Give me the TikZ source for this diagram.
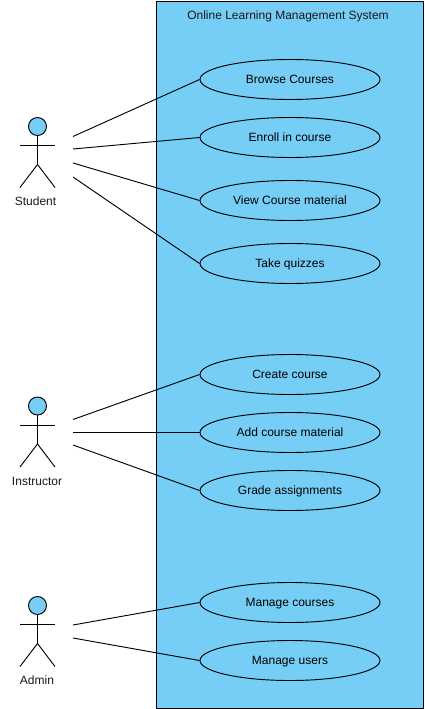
\documentclass[tikz,border=0pt]{standalone}
\usepackage{fontspec}
\setmainfont{Liberation Sans}
\definecolor{sysblue}{HTML}{76CEF6}
\tikzset{
	usecase/.style={draw,ellipse,fill=sysblue,minimum width=180*0.75pt,minimum height=40*0.75pt,inner sep=0pt,text height=7.5pt,text depth=1.5pt,font=\fontsize{9pt}{11pt}\selectfont},
	label/.style={inner sep=0pt,text height=7.5pt,text depth=1.5pt,font=\fontsize{9pt}{11pt}\selectfont,text=black!90},
	head/.style={draw,circle,fill=sysblue,minimum size=18*0.75pt,inner sep=0pt},
	actor/.pic={
		\draw (0,9)--(0,38);
		\draw (-17.5,19)--(17.5,19);
		\draw (0,38)--(-17.5,61);
		\draw (0,38)--(17.5,61);
	}
}
\usetikzlibrary{shapes.geometric}
\begin{document}
\begin{tikzpicture}[x=0.75pt,y=-0.75pt,line width=0.7pt]
			\useasboundingbox (0,0) rectangle (424,709);
			\fill[sysblue] (156.5,1) rectangle (423,708);
			\draw (156.5,1) rectangle (423,708);
			\node[label] (title) at (288,16){Online Learning Management System};
			% use cases
			\node[usecase] (browse) at (290,79.5){Browse Courses};
			\node[usecase] (enroll) at (290,137.5){Enroll in course};
			\node[usecase] (view) at (290,200.5){View Course material};
			\node[usecase] (quiz) at (290,263.5){Take quizzes};
			\node[usecase] (create) at (290,374.5){Create course};
			\node[usecase] (add) at (290,432.5){Add course material};
			\node[usecase] (grade) at (290,490.5){Grade assignments};
			\node[usecase] (courses) at (290,602.5){Manage courses};
			\node[usecase] (users) at (290,660.5){Manage users};
			% actors
			\pic at (37.5,126.5){actor};
			\node[head] (studenthead) at (37.5,126.5){};
			\node[label] (student) at (35.5,201.5){Student};
			\pic at (37.5,406){actor};
			\node[head] (instructorhead) at (37.5,406){};
			\node[label] (instructor) at (37,481.5){Instructor};
			\pic at (37.5,605.5){actor};
			\node[head] (adminhead) at (37.5,605.5){};
			\node[label] (admin) at (37,680.5){Admin};
			% free ends of the connectors
			\coordinate (s1) at (73,136.5);
			\coordinate (s2) at (73,149);
			\coordinate (s3) at (73,163);
			\coordinate (s4) at (73,177);
			\coordinate (i1) at (73,419.5);
			\coordinate (i2) at (73,432.5);
			\coordinate (i3) at (73,445);
			\coordinate (a1) at (73,625);
			\coordinate (a2) at (73,638);
			\draw (s1)--(browse.west);
			\draw (s2)--(enroll.west);
			\draw (s3)--(view.west);
			\draw (s4)--(quiz.west);
			\draw (i1)--(create.west);
			\draw (i2)--(add.west);
			\draw (i3)--(grade.west);
			\draw (a1)--(courses.west);
			\draw (a2)--(users.west);
		\end{tikzpicture}
\end{document}
